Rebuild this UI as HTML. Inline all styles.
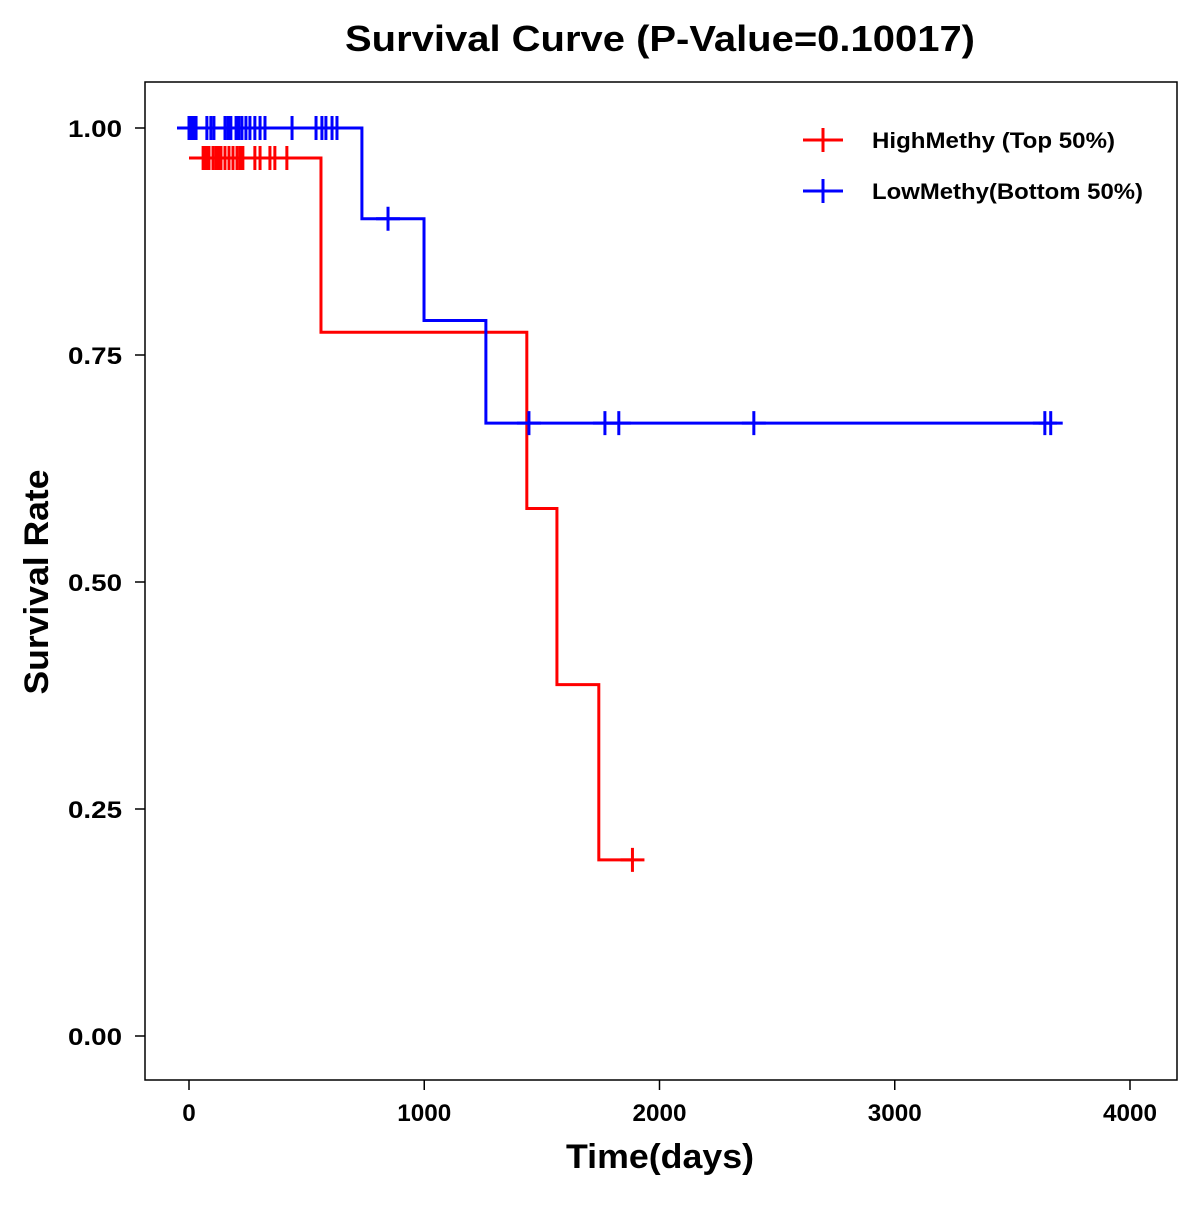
<!DOCTYPE html>
<html><head><meta charset="utf-8"><style>
body{margin:0;background:#fff}
text{font-family:"Liberation Sans",Arial,sans-serif;font-weight:bold}
</style></head><body>
<svg id="chart" width="1200" height="1200" xmlns="http://www.w3.org/2000/svg">
<rect width="1200" height="1200" fill="#fff"/>
<text x="660" y="51" text-anchor="middle" font-size="36" textLength="630" lengthAdjust="spacingAndGlyphs">Survival Curve (P-Value=0.10017)</text>
<rect x="145" y="82" width="1032" height="998" fill="none" stroke="#000" stroke-width="1.5"/>
<g id="axes"></g>
<g id="series"></g>
<text x="660" y="1168" text-anchor="middle" font-size="34" textLength="188" lengthAdjust="spacingAndGlyphs">Time(days)</text>
<text transform="translate(48,582) rotate(-90)" text-anchor="middle" font-size="34" textLength="225" lengthAdjust="spacingAndGlyphs">Survival Rate</text>
<g>
<g><line x1="803" y1="140" x2="843" y2="140" stroke="#f00" stroke-width="3"/><line x1="823" y1="128" x2="823" y2="152" stroke="#f00" stroke-width="3"/><text x="872" y="148" font-size="22" textLength="243" lengthAdjust="spacingAndGlyphs">HighMethy (Top 50%)</text></g>
<g><line x1="803" y1="191" x2="843" y2="191" stroke="#00f" stroke-width="3"/><line x1="823" y1="179" x2="823" y2="203" stroke="#00f" stroke-width="3"/><text x="872" y="199" font-size="22" textLength="271" lengthAdjust="spacingAndGlyphs">LowMethy(Bottom 50%)</text></g>
</g>
</svg>
<script>
const xTicks=[0,1000,2000,3000,4000];
const yTicks=[0,0.25,0.5,0.75,1];
const yTickLabels=["0.00","0.25","0.50","0.75","1.00"];
const highTimes=[0,561,1436,1564,1742,1885];
const highSurv=[0.967,0.775,0.581,0.387,0.194,0.194];
const highCensor=[60,68,76,85,102,115,127,136,153,170,187,204,217,229,280,302,344,365,416,1885];
const lowTimes=[0,735,999,1262,3663];
const lowSurv=[1,0.9,0.788,0.675,0.675];
const lowCensor=[0,4,8,13,17,25,30,76,93,106,153,166,178,200,212,225,242,259,280,302,323,438,540,565,582,608,629,846,1445,1768,1827,2401,3638,3663];
const X=d=>189+d*0.23525, Y=s=>1036-s*908;
const NS="http://www.w3.org/2000/svg";
function mk(t,a,p){const e=document.createElementNS(NS,t);for(const k in a)e.setAttribute(k,a[k]);p.appendChild(e);return e;}
const ax=document.getElementById('axes');
xTicks.forEach(v=>{
 const g=mk('g',{},ax);
 
 
 mk('line',{x1:X(v),x2:X(v),y1:1080,y2:1090,stroke:'#000','stroke-width':1.5},g);
 const s=String(v);
 const t=mk('text',{x:X(v),y:1121,'text-anchor':'middle','font-size':24,textLength:13.5*s.length,lengthAdjust:'spacingAndGlyphs'},g);t.textContent=s;
});
yTicks.forEach((v,i)=>{
 const g=mk('g',{},ax);
 
 
 mk('line',{x1:135,x2:145,y1:Y(v),y2:Y(v),stroke:'#000','stroke-width':1.5},g);
 const t=mk('text',{x:122,y:Y(v)+9,'text-anchor':'end','font-size':24,textLength:54,lengthAdjust:'spacingAndGlyphs'},g);t.textContent=yTickLabels[i];
});
const se=document.getElementById('series');
function draw(times,surv,cens,color,name){
 const g=mk('g',{},se);
 
 
 let d='M'+X(times[0])+','+Y(surv[0]);
 for(let i=1;i<times.length;i++){d+=' H'+X(times[i])+' V'+Y(surv[i]);}
 const p=mk('path',{d:d,fill:'none',stroke:color,'stroke-width':3},g);
 
 
 const sAt=t=>{let s=surv[0];for(let i=0;i<times.length;i++)if(times[i]<=t)s=surv[i];return s;};
 cens.forEach(t=>{
  const x=X(t),y=Y(sAt(t));
  const c=mk('path',{d:`M${x-12},${y}H${x+12}M${x},${y-12}V${y+12}`,stroke:color,'stroke-width':3},g);
  
  
 });
}
draw(highTimes,highSurv,highCensor,'#f00','high-methy-series');
draw(lowTimes,lowSurv,lowCensor,'#00f','low-methy-series');
</script>
</body></html>
